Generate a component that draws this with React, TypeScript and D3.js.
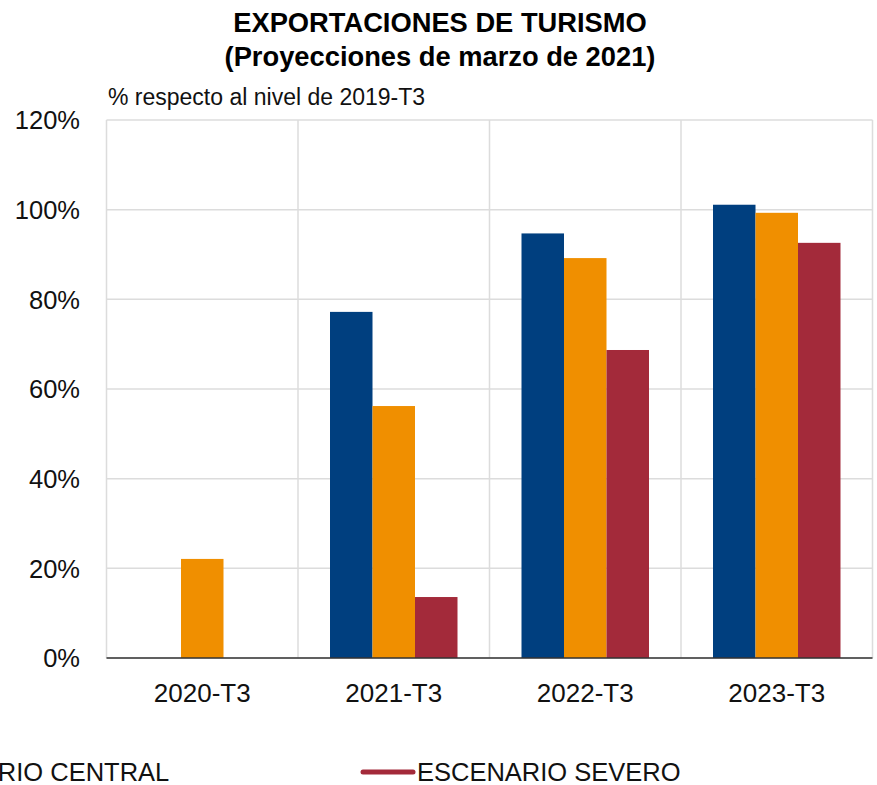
import React from "react";
import * as d3 from "d3";

const categories = ["2020-T3", "2021-T3", "2022-T3", "2023-T3"];
const seriesNames = ["ESCENARIO SUAVE", "ESCENARIO CENTRAL", "ESCENARIO SEVERO"];
const seriesColors = ["#003F7F", "#F08F00", "#A32A3A"];
const suave: (number | null)[] = [null, 77.2, 94.7, 101.1];
const central: (number | null)[] = [22.1, 56.2, 89.2, 99.3];
const severo: (number | null)[] = [null, 13.6, 68.7, 92.6];
const yTicks = [0, 20, 40, 60, 80, 100, 120];

const W = 877;
const H = 785;
const M = { left: 106.5, right: 872.5, top: 120, bottom: 658 };
const FONT = "'Liberation Sans', Arial, Helvetica, sans-serif";

export default function App() {
  const series = [suave, central, severo];
  const x = d3.scaleBand<string>().domain(categories).range([M.left, M.right]).padding(0);
  const groupW = x.bandwidth() * (127.5 / 191.5);
  const xs = d3
    .scaleBand<number>()
    .domain(d3.range(series.length))
    .range([(x.bandwidth() - groupW) / 2, (x.bandwidth() + groupW) / 2])
    .padding(0);
  const y = d3.scaleLinear().domain([0, 120]).range([M.bottom, M.top]);
  const fmt = (v: number) => `${v}%`;

  const legendX0 = 360 - 2 * 524;
  return (
    <svg
      width={W}
      height={H}
      style={{ position: "absolute", left: 0, top: 0, background: "#fff" }}
      fontFamily={FONT}
    >
      <rect width={W} height={H} fill="#fff" />
      <text x={440} y={31.5} textAnchor="middle" fontSize={27.3} fontWeight="bold" fill="#000">
        EXPORTACIONES DE TURISMO
      </text>
      <text x={440} y={66} textAnchor="middle" fontSize={27.3} fontWeight="bold" fill="#000">
        (Proyecciones de marzo de 2021)
      </text>
      <text x={108} y={105} fontSize={23} fill="#111">
        % respecto al nivel de 2019-T3
      </text>

      {/* horizontal gridlines */}
      {yTicks.map((t) => (
        <line key={"h" + t} x1={M.left} x2={M.right} y1={y(t)} y2={y(t)} stroke="#dcdcdc" strokeWidth={1.5} />
      ))}
      {/* vertical gridlines */}
      {[...categories.map((c) => x(c) as number), M.right].map((xv, i) => (
        <line key={"v" + i} x1={xv} x2={xv} y1={M.top} y2={M.bottom} stroke="#dcdcdc" strokeWidth={1.5} />
      ))}

      {/* bars */}
      {series.map((s, si) =>
        s.map((v, ci) =>
          v == null ? null : (
            <rect
              key={`b${si}-${ci}`}
              x={(x(categories[ci]) as number) + (xs(si) as number)}
              y={y(v)}
              width={xs.bandwidth()}
              height={y(0) - y(v)}
              fill={seriesColors[si]}
            />
          )
        )
      )}

      {/* zero axis */}
      <line x1={M.left} x2={M.right} y1={y(0)} y2={y(0)} stroke="#333" strokeWidth={1.5} />

      {/* y tick labels */}
      {yTicks.map((t) => (
        <text key={"yl" + t} x={80} y={y(t)} dy="0.36em" textAnchor="end" fontSize={25.5} fill="#111">
          {fmt(t)}
        </text>
      ))}

      {/* x labels */}
      {categories.map((c) => (
        <text
          key={"xl" + c}
          x={(x(c) as number) + x.bandwidth() / 2}
          y={702}
          textAnchor="middle"
          fontSize={26}
          fill="#111"
        >
          {c}
        </text>
      ))}

      {/* legend */}
      {seriesNames.map((n, i) => {
        const lx = legendX0 + i * 524;
        return (
          <g key={"lg" + i}>
            <line
              x1={lx + 3}
              x2={lx + 53}
              y1={772}
              y2={772}
              stroke={seriesColors[i]}
              strokeWidth={5}
              strokeLinecap="round"
            />
            <text x={lx + 57} y={781} fontSize={25.5} fill="#111">
              {n}
            </text>
          </g>
        );
      })}
    </svg>
  );
}
